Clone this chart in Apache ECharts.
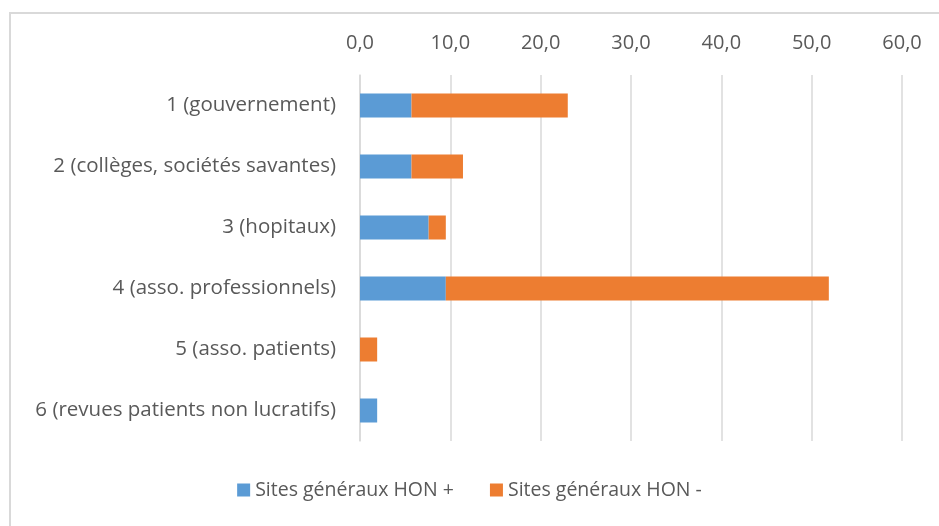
<!DOCTYPE html>
<html>
<head>
<meta charset="utf-8">
<script src="https://cdn.jsdelivr.net/npm/echarts@6/dist/echarts.min.js"></script>
<style>
  html, body { margin: 0; padding: 0; background: #fff; }
  #chart { width: 939px; height: 526px; }
</style>
</head>
<body>
<div id="chart"></div>
<script>
// catégories, de haut en bas
const categories = [
  "1 (gouvernement)",
  "2 (collèges, sociétés savantes)",
  "3 (hopitaux)",
  "4 (asso. professionnels)",
  "5 (asso. patients)",
  "6 (revues patients non lucratifs)"
];
const honPlus = [5.7, 5.7, 7.6, 9.5, 0, 1.9];
const honMinus = [17.3, 5.7, 1.9, 42.4, 1.9, 0];
const seriesNames = ["Sites généraux HON +", "Sites généraux HON -"];

const chart = echarts.init(document.getElementById("chart"));
const font = "'Open Sans', sans-serif";

chart.setOption({
  animation: false,
  textStyle: { fontFamily: font },
  graphic: [
    {
      // cadre gris du graphique (coupé à droite et en bas)
      type: "rect",
      shape: { x: 10, y: 13, width: 960, height: 560 },
      style: { fill: "none", stroke: "#d9d9d9", lineWidth: 2 }
    }
  ],
  grid: { left: 360, right: 37, top: 75, bottom: 85 },
  legend: {
    data: seriesNames,
    bottom: 21,
    left: "center",
    itemWidth: 13,
    itemHeight: 13,
    itemGap: 36,
    icon: "rect",
    textStyle: { fontFamily: font, fontSize: 19.5, color: "#595959" }
  },
  xAxis: {
    type: "value",
    position: "top",
    min: 0,
    max: 60,
    interval: 10,
    axisLine: { show: false },
    axisTick: { show: false },
    splitLine: { lineStyle: { color: "#d9d9d9", width: 1.5 } },
    axisLabel: {
      color: "#595959",
      fontSize: 20,
      margin: 22,
      formatter: v => v.toFixed(1).replace(".", ",")
    }
  },
  yAxis: {
    type: "category",
    inverse: true,
    data: categories,
    axisTick: { show: false },
    axisLine: { show: true, lineStyle: { color: "#d9d9d9", width: 1.5 } },
    axisLabel: { color: "#595959", fontSize: 20.5, margin: 24 }
  },
  series: [
    {
      name: seriesNames[0],
      type: "bar",
      stack: "total",
      barWidth: 24,
      itemStyle: { color: "#5b9bd5" },
      data: honPlus
    },
    {
      name: seriesNames[1],
      type: "bar",
      stack: "total",
      barWidth: 24,
      itemStyle: { color: "#ed7d31" },
      data: honMinus
    }
  ]
});
</script>
</body>
</html>
